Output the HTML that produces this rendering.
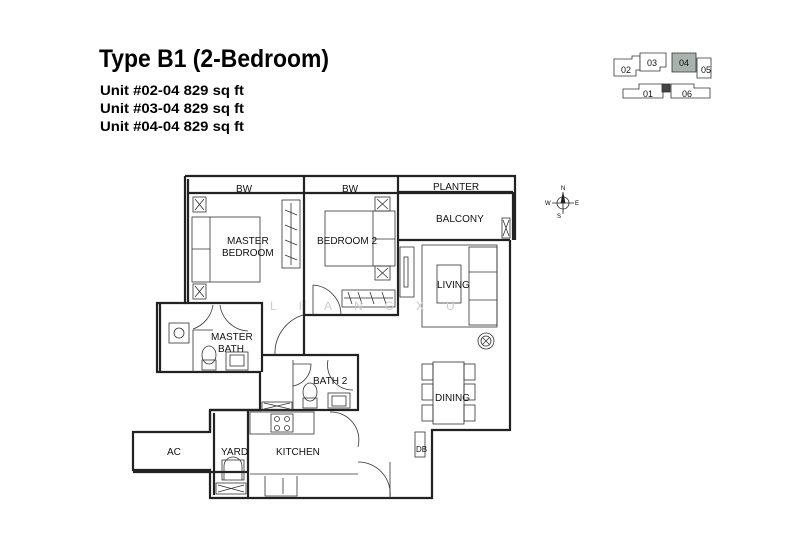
<!DOCTYPE html>
<html><head><meta charset="utf-8"><style>
html,body{margin:0;padding:0;background:#fff;width:800px;height:533px;overflow:hidden}
svg{display:block}
text{font-family:"Liberation Sans",sans-serif}
</style></head><body>
<svg width="800" height="533" viewBox="0 0 800 533" xmlns="http://www.w3.org/2000/svg">
<text x="99" y="67" font-size="25" font-weight="bold" textLength="230" lengthAdjust="spacingAndGlyphs">Type B1  (2-Bedroom)</text>
<g font-size="14" font-weight="bold">
<text x="100" y="95" textLength="144" lengthAdjust="spacingAndGlyphs">Unit #02-04  829 sq ft</text>
<text x="100" y="113" textLength="144" lengthAdjust="spacingAndGlyphs">Unit #03-04  829 sq ft</text>
<text x="100" y="131" textLength="144" lengthAdjust="spacingAndGlyphs">Unit #04-04  829 sq ft</text>
</g>
<!-- key plan -->
<g fill="#fff" stroke="#333" stroke-width="0.8">
<path d="M614 59h18v-3h8v14h-4v6h-22z"/>
<path d="M640 53h26v14h-6v4h-20z"/>
<path d="M672 53h24v19h-24z" fill="#a9b3ad"/>
<path d="M697 58h14v20h-14z"/>
<path d="M623 89h16v-5h24v14h-40z"/>
<path d="M671 84h23v4h16v10h-39z"/>
<rect x="662" y="84" width="8" height="8" fill="#444"/>
</g>
<g font-size="9" fill="#111"><text x="621" y="73">02</text><text x="647" y="66">03</text><text x="679" y="66">04</text><text x="701" y="73">05</text><text x="643" y="97">01</text><text x="682" y="97">06</text></g>
<!-- compass -->
<g stroke="#222" fill="none" stroke-width="0.8">
<circle cx="563" cy="203" r="6"/><path d="M563 192v22M552 203h22"/>
<path d="M563 193l-2 10h4z" fill="#222"/>
</g>
<g font-size="6"><text x="561" y="190">N</text><text x="545" y="205">W</text><text x="575" y="205">E</text><text x="557" y="218">S</text></g>
<!-- walls -->
<g fill="none" stroke="#222" stroke-width="2.2">
<path d="M185 176H515V240M510 240V430H432V498H210V470H133V432H210V410H260V372H157V303H185V176"/>
<path d="M188 179V303M188 193H512M304 176V315M398 176V240M398 192H513M398 240H510"/>
<path d="M160 303V372M185 303H262V372M262 355H358V410H210M304 300V355"/>
<path d="M248 410V498M214 413V495M303 315H398V240"/>
<path d="M513 192V240"/>
<path d="M248 472H133M210 410V432"/>
</g>
<g fill="none" stroke="#333" stroke-width="0.8">
<rect x="192" y="217" width="68" height="65"/><line x1="210" y1="217" x2="210" y2="282"/><line x1="192" y1="249" x2="210" y2="249"/>
<rect x="193" y="197" width="13" height="15"/><path d="M195 199l9 11M204 199l-9 11"/>
<rect x="193" y="284" width="13" height="15"/><path d="M195 286l9 11M204 286l-9 11"/>
<rect x="282" y="200" width="18" height="68"/><path d="M291 203v62M285 210l12 5M285 225l12 5M285 240l12 5M285 255l12 5"/>
<rect x="325" y="211" width="70" height="55"/><line x1="373" y1="211" x2="373" y2="266"/><line x1="373" y1="239" x2="395" y2="239"/>
<rect x="375" y="197" width="15" height="14"/><path d="M377 199l11 10M388 199l-11 10"/>
<rect x="375" y="266" width="15" height="14"/><path d="M377 268l11 10M388 268l-11 10"/>
<rect x="342" y="290" width="53" height="17"/><path d="M344 298h49M348 292l4 12M358 292l4 12M370 292l4 12M382 292l4 12"/>
<path d="M313 285v30"/><path d="M313 285a30 30 0 0 1 28 30"/>
<rect x="422" y="245" width="75" height="82"/><rect x="437" y="265" width="24" height="38"/>
<rect x="469" y="247" width="28" height="78"/><line x1="469" y1="272" x2="497" y2="272"/><line x1="469" y1="300" x2="497" y2="300"/>
<rect x="400" y="247" width="14" height="50"/><rect x="404" y="257" width="4" height="30"/>
<circle cx="486" cy="341" r="8"/><circle cx="486" cy="341" r="5"/><path d="M483 338l6 6M489 338l-6 6"/>
<rect x="502" y="218" width="8" height="20"/><path d="M503 220l6 16M509 220l-6 16"/>
<rect x="433" y="362" width="31" height="62"/>
<rect x="422" y="364" width="11" height="16"/><rect x="422" y="384" width="11" height="16"/><rect x="422" y="405" width="11" height="16"/>
<rect x="464" y="364" width="11" height="16"/><rect x="464" y="384" width="11" height="16"/><rect x="464" y="405" width="11" height="16"/>
<rect x="415" y="432" width="10" height="25"/>
<rect x="169" y="323" width="20" height="20"/><circle cx="179" cy="333" r="5"/>
<path d="M193 372V330h20M213 305a30 30 0 0 1 -20 24M220 305a30 30 0 0 0 28 26"/>
<ellipse cx="209" cy="355" rx="7" ry="9"/><rect x="202" y="360" width="14" height="10"/>
<rect x="226" y="352" width="22" height="18"/><rect x="230" y="355" width="14" height="11"/>
<path d="M303 315a40 40 0 0 0 -28 40"/>
<path d="M293 360v50M293 364h18a22 22 0 0 1 -18 22M328 360a25 25 0 0 0 25 30"/>
<ellipse cx="310" cy="392" rx="7" ry="9"/><rect x="303" y="398" width="14" height="10"/>
<rect x="328" y="393" width="22" height="15"/><rect x="332" y="396" width="14" height="10"/>
<rect x="262" y="402" width="30" height="8"/><path d="M264 403l26 6M290 403l-26 6"/>
<rect x="250" y="412" width="64" height="22"/><rect x="271" y="414" width="22" height="18"/>
<circle cx="277" cy="419" r="2.5"/><circle cx="287" cy="419" r="2.5"/><circle cx="277" cy="428" r="2.5"/><circle cx="287" cy="428" r="2.5"/>
<path d="M250 474h108M265 476v20h32v-20M283 478v16"/>
<path d="M330 412a28 28 0 0 1 28 35M358 462a32 32 0 0 1 32 36"/>
<rect x="222" y="460" width="22" height="20"/><path d="M224 480v-14a9 9 0 0 1 18 0v14"/>
<rect x="216" y="483" width="30" height="11"/><path d="M218 485l26 7M244 485l-26 7"/>
<line x1="390" y1="462" x2="390" y2="498"/>
</g>
<g font-size="10" fill="#111">
<text x="236" y="192">BW</text><text x="342" y="192">BW</text><text x="433" y="190">PLANTER</text>
<text x="436" y="222">BALCONY</text>
<text x="227" y="244">MASTER</text><text x="222" y="256">BEDROOM</text>
<text x="317" y="244">BEDROOM 2</text>
<text x="437" y="288">LIVING</text>
<text x="211" y="340">MASTER</text><text x="218" y="352">BATH</text>
<text x="313" y="384">BATH 2</text>
<text x="435" y="401">DINING</text>
<text x="167" y="455">AC</text><text x="221" y="455">YARD</text><text x="276" y="455">KITCHEN</text>
<text x="416" y="452" font-size="8">DB</text>
</g>
<g font-size="12" fill="#ccc" letter-spacing="22"><text x="270" y="310">LIANGXU</text></g>
</svg>
</body></html>
